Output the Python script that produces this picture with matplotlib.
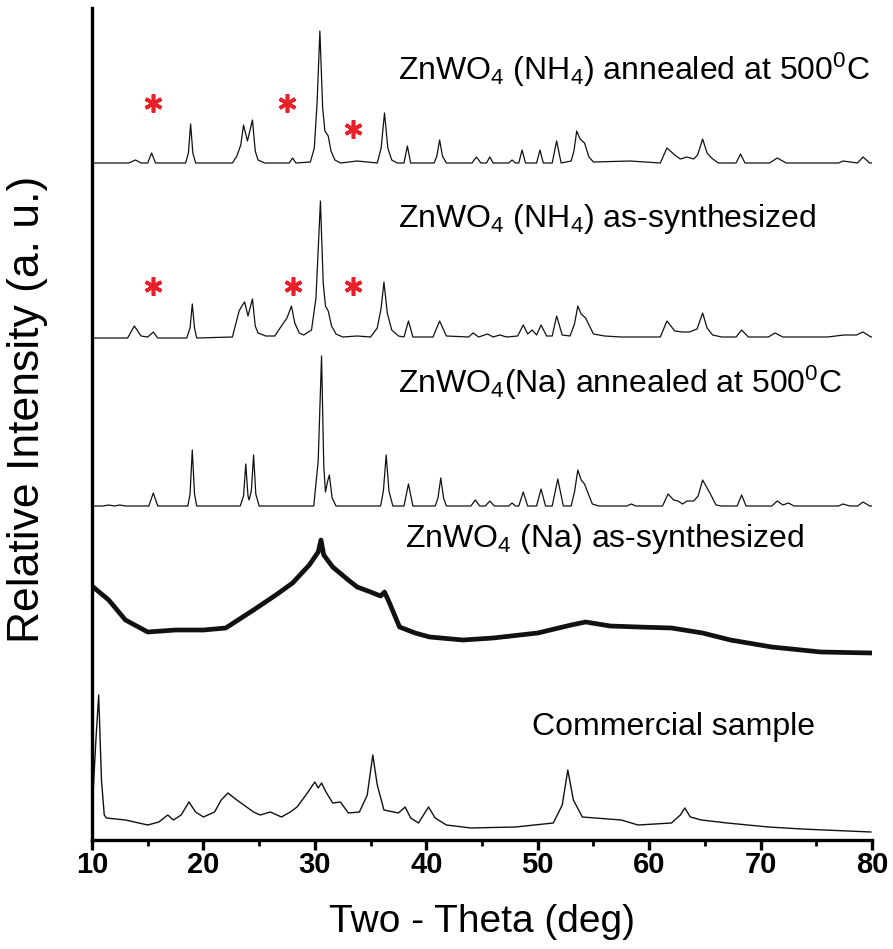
import matplotlib
matplotlib.use('Agg')
from matplotlib import pyplot as plt

plt.rcParams['font.family'] = ['Liberation Sans', 'DejaVu Sans']
plt.rcParams['mathtext.fontset'] = 'custom'
plt.rcParams['mathtext.rm'] = 'Liberation Sans'
plt.rcParams['mathtext.default'] = 'regular'

# ZnWO4 (NH4) annealed at 500 C  (2theta, intensity above its baseline)
tt_nh4_ann = [10.0, 13.3, 13.9, 14.4, 15.0, 15.35, 15.7, 18.4, 18.65, 18.85, 19.05, 19.3, 22.6, 23.0, 23.35, 23.6,
              23.95, 24.4, 24.65, 24.9, 25.5, 27.7, 28.0, 28.3, 29.6, 29.95, 30.2, 30.45, 30.7, 30.9, 31.2, 31.45,
              31.8, 32.3, 33.8, 35.6, 35.95, 36.25, 36.55, 36.9, 37.4, 38.0, 38.3, 38.6, 40.7, 40.95, 41.2, 41.45,
              41.8, 44.1, 44.5, 44.9, 45.4, 45.7, 46.0, 47.4, 47.7, 48.0, 48.3, 48.6, 48.9, 49.9, 50.2, 50.5,
              51.3, 51.7, 52.1, 53.0, 53.25, 53.5, 53.8, 54.2, 54.6, 55.0, 58.3, 61.0, 61.6, 62.3, 62.8, 63.4,
              64.0, 64.35, 64.8, 65.2, 65.6, 66.2, 67.8, 68.2, 68.6, 70.8, 71.5, 72.3, 77.0, 77.4, 78.7, 79.2,
              79.8, 80.0]
i_nh4_ann = [0, 0, 3, 0, 0, 10, 0, 0, 10, 39, 10, 0, 0, 7, 18, 38,
             22, 43, 12, 3, 0, 0, 5, 0, 1, 15, 60, 132, 55, 32, 27, 12,
             3, 0, 2, 0, 15, 50, 15, 3, 0, 0, 17, 0, 0, 7, 23, 7,
             0, 0, 6, 0, 0, 6, 0, 0, 3, 0, 0, 13, 0, 0, 13, 0,
             0, 22, 0, 2, 12, 32, 24, 20, 6, 1, 2, 0, 15, 8, 4, 6,
             4, 8, 24, 10, 5, 0, 0, 9, 0, 0, 5, 0, 0, 2, 0, 6,
             0, 0]

# ZnWO4 (NH4) as-synthesized
tt_nh4_as = [10.0, 13.2, 13.8, 14.4, 15.0, 15.5, 15.9, 18.5, 18.8, 19.0, 19.2, 19.4, 22.6, 23.2, 23.5, 23.7,
             24.0, 24.4, 24.65, 24.9, 25.6, 26.4, 27.0, 27.5, 27.9, 28.2, 28.6, 29.0, 29.7, 30.1, 30.5, 30.75,
             30.95, 31.2, 31.5, 31.9, 32.5, 33.8, 35.0, 35.6, 35.95, 36.2, 36.5, 36.9, 37.5, 38.0, 38.4, 38.8,
             40.6, 41.2, 41.8, 43.8, 44.2, 44.7, 45.5, 46.0, 46.6, 47.2, 48.2, 48.7, 49.1, 49.5, 49.9, 50.3,
             50.8, 51.3, 51.7, 52.2, 52.9, 53.3, 53.6, 53.9, 54.3, 55.0, 56.0, 57.5, 61.0, 61.6, 62.3, 63.0,
             63.6, 64.3, 64.8, 65.2, 65.7, 66.5, 67.8, 68.3, 68.9, 70.7, 71.3, 72.0, 76.0, 77.5, 78.6, 79.2,
             79.9, 80.0]
i_nh4_as = [0, 0, 12, 2, 1, 6, 0, 0, 10, 34, 10, 0, 1, 27, 33, 36,
            22, 39, 12, 5, 2, 2, 12, 20, 32, 15, 5, 3, 8, 40, 137, 55,
            32, 27, 12, 4, 1, 2, 1, 10, 30, 56, 25, 8, 2, 1, 17, 1,
            1, 17, 2, 1, 5, 1, 4, 1, 3, 1, 2, 13, 4, 8, 3, 13,
            2, 2, 22, 3, 2, 14, 32, 24, 20, 4, 2, 1, 1, 17, 7, 6,
            6, 9, 25, 10, 3, 1, 1, 8, 1, 1, 5, 1, 1, 3, 3, 6,
            1, 1]

# ZnWO4(Na) annealed at 500 C
tt_na_ann = [10.0, 11.0, 11.5, 12.0, 12.5, 13.0, 15.1, 15.5, 15.9, 18.6, 18.8, 19.0, 19.2, 19.4, 23.3, 23.6,
             23.8, 24.0, 24.1, 24.3, 24.5, 24.7, 25.0, 29.9, 30.3, 30.6, 30.8, 30.95, 31.15, 31.3, 31.55, 31.9,
             35.9, 36.15, 36.4, 36.65, 37.0, 38.0, 38.4, 38.8, 40.8, 41.05, 41.3, 41.55, 41.8, 44.0, 44.4, 44.8,
             45.3, 45.7, 46.1, 47.4, 47.7, 48.0, 48.3, 48.7, 49.1, 49.9, 50.3, 50.7, 51.3, 51.8, 52.3, 53.0,
             53.3, 53.6, 53.9, 54.2, 54.9, 55.5, 58.0, 58.4, 58.8, 61.2, 61.7, 62.2, 62.6, 63.0, 63.4, 64.0,
             64.4, 64.8, 65.5, 66.0, 66.5, 67.9, 68.3, 68.7, 71.0, 71.5, 72.0, 72.5, 73.0, 77.0, 77.4, 78.0,
             78.7, 79.2, 79.8, 80.0]
i_na_ann = [0, 0, 1, 0, 1, 0, 0, 13, 0, 0, 12, 56, 12, 0, 0, 10,
            42, 10, 6, 15, 51, 12, 0, 0, 45, 150, 40, 14, 25, 31, 8, 0,
            0, 15, 51, 15, 0, 0, 22, 0, 0, 8, 28, 8, 0, 0, 6, 0,
            0, 5, 0, 0, 3, 0, 0, 14, 0, 0, 17, 0, 0, 27, 0, 0,
            14, 36, 26, 22, 2, 0, 0, 2, 0, 0, 12, 6, 5, 2, 5, 5,
            10, 26, 12, 1, 0, 0, 11, 0, 0, 5, 1, 3, 0, 0, 2, 0,
            0, 4, 0, 0]

# ZnWO4 (Na) as-synthesized (amorphous hump)
tt_na_as = [10.1, 11.5, 13.0, 15.0, 17.5, 20.0, 22.0, 24.5, 26.5, 28.0, 29.5, 30.3, 30.55, 30.8, 31.6, 33.0,
            33.8, 35.0, 35.9, 36.25, 36.7, 37.6, 39.0, 40.3, 43.3, 46.0, 50.0, 53.0, 54.3, 56.5, 59.0, 62.0,
            64.8, 67.3, 71.0, 75.4, 80.0]
i_na_as = [73, 60, 40, 28, 30, 30, 32, 50, 65, 77, 95, 108, 120, 105, 93, 80,
           73, 68, 64, 68, 57, 33, 27, 23, 20, 22, 27, 35, 38, 34, 33, 32,
           27, 20, 13, 8, 7]

# Commercial sample
tt_comm = [10.05, 10.35, 10.6, 10.85, 11.1, 11.3, 13.0, 15.0, 16.0, 16.8, 17.3, 18.0, 18.7, 19.3, 20.0, 21.0,
           21.6, 22.2, 23.0, 24.5, 25.1, 26.0, 27.0, 27.8, 28.4, 29.2, 30.0, 30.3, 30.6, 31.0, 31.6, 32.3,
           33.0, 34.0, 34.7, 35.2, 35.6, 36.2, 37.5, 38.1, 38.6, 39.3, 40.2, 40.8, 41.8, 44.0, 48.0, 51.4,
           52.2, 52.7, 53.2, 54.0, 57.5, 59.0, 62.0, 62.8, 63.2, 63.7, 64.7, 67.0, 70.7, 73.7, 79.9]
i_comm = [37, 100, 145, 60, 25, 22, 20, 15, 18, 25, 20, 25, 38, 28, 23, 28,
          40, 47, 40, 28, 25, 28, 23, 28, 33, 45, 58, 52, 57, 48, 37, 38,
          27, 28, 45, 85, 55, 30, 27, 33, 22, 17, 33, 22, 15, 12, 13, 17,
          35, 70, 40, 23, 20, 15, 17, 25, 32, 23, 20, 17, 13, 11, 8]

labels = ['ZnWO$_4$ (NH$_4$) annealed at 500$^0$C',
          'ZnWO$_4$ (NH$_4$) as-synthesized',
          'ZnWO$_4$(Na) annealed at 500$^0$C',
          'ZnWO$_4$ (Na) as-synthesized',
          'Commercial sample']

# impurity peaks marked with red stars
star_tt_ann = [15.5, 27.5, 33.4]
star_tt_as = [15.5, 28.0, 33.4]

xticks = [10, 20, 30, 40, 50, 60, 70, 80]

# layout: vertical offsets and label spots
series = [(tt_nh4_ann, i_nh4_ann, 677, 0.9),
          (tt_nh4_as, i_nh4_as, 502, 0.9),
          (tt_na_ann, i_na_ann, 334, 0.9),
          (tt_na_as, i_na_as, 180, 3.4),
          (tt_comm, i_comm, 0, 1.0)]
label_pos = [(37.45, 760), (37.45, 613), (37.45, 447), (38.1, 293), (49.5, 105)]

fig = plt.figure(figsize=(8.93, 9.49), dpi=100)
ax = fig.add_axes([92 / 893, 109 / 949, 780 / 893, 832 / 949])

for tt, inten, off, lw in series:
    ax.plot(tt, [v + off for v in inten], color='#111111', lw=lw)

for (x, y), lab in zip(label_pos, labels):
    ax.text(x, y, lab, fontsize=23, ha='left', va='baseline')

ax.plot(star_tt_ann, [737, 737, 711], ls='none', marker=(6, 2, 0), ms=13, mew=2.6, color='#e8202a')
ax.plot(star_tt_as, [554, 554, 554], ls='none', marker=(6, 2, 0), ms=13, mew=2.6, color='#e8202a')

ax.set_xlim(10, 80)
ax.set_ylim(0, 832)
ax.set_xticks(xticks)
ax.set_xticks([15, 25, 35, 45, 55, 65, 75], minor=True)
ax.set_yticks([])
for s in ['top', 'right']:
    ax.spines[s].set_visible(False)
ax.spines['left'].set_linewidth(2.4)
ax.spines['bottom'].set_linewidth(2.4)
ax.tick_params(axis='x', which='major', direction='out', length=7, width=2.4, pad=1)
ax.tick_params(axis='x', which='minor', direction='out', length=4, width=2.0)
for t in ax.get_xticklabels():
    t.set_fontweight('bold')
    t.set_fontsize(21)

ax.set_xlabel('Two - Theta (deg)', fontsize=28, labelpad=18)
ax.set_ylabel('Relative Intensity (a. u.)', fontsize=32)
ax.yaxis.set_label_coords(-0.056, 0.518)

fig.savefig('out.png', dpi=100)
